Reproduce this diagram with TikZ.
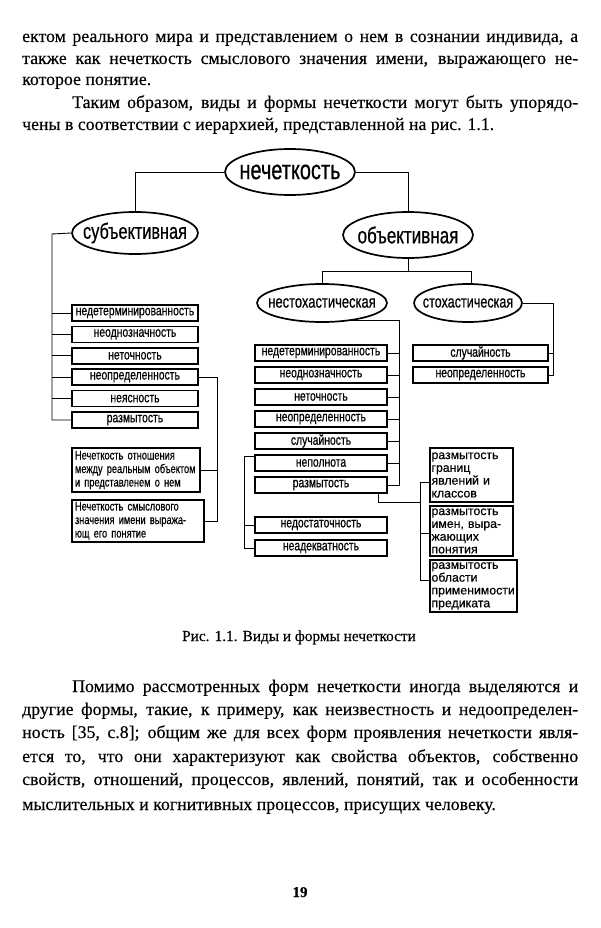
\documentclass[tikz,border=0pt]{standalone}
\usepackage{fontspec}
\setmainfont[FakeBold=0.3]{Liberation Serif}
\newfontfamily\dgfont[FakeStretch=0.74,FakeBold=0.5]{Liberation Sans}
\newfontfamily\rfont[FakeBold=0.5]{Liberation Sans}
\usetikzlibrary{shapes.geometric,calc}
\tikzset{
  body/.style={anchor=base west, inner sep=0pt, font=\fontsize{17.8}{22}\selectfont},
  box/.style={draw, line width=1.7pt, minimum height=16pt, inner sep=0pt, font=\dgfont\fontsize{14}{14}\selectfont},
  tbox/.style={draw, line width=1.7pt, inner xsep=3pt, inner ysep=0pt, align=left, font=\dgfont\fontsize{12.5}{13.5}\selectfont},
  rbox/.style={draw, line width=1.7pt, inner xsep=1.5pt, inner ysep=0pt, align=left, font=\rfont\fontsize{12.3}{12.8}\selectfont},
  ell/.style={draw, ellipse, line width=1.7pt, inner sep=0pt},
  conn/.style={line width=0.9pt}
}
\begin{document}
\begin{tikzpicture}[x=1pt,y=-1pt]
\useasboundingbox (0,0) rectangle (600,928);
\fill[white] (0,0) rectangle (600,928);
% top text
\node[body] (t1) at (22,42) {\makebox[556pt][s]{ектом реального мира и представлением о нем в сознании индивида, а}};
\node[body] (t2) at (22,64) {\makebox[556pt][s]{также как нечеткость смыслового значения имени, выражающего не-}};
\node[body] (t3) at (22,85) {которое понятие.};
\node[body] (t4) at (72,108) {\makebox[506pt][s]{Таким образом, виды и формы нечеткости могут быть упорядо-}};
\node[body] (t5) at (22,130) {чены в соответствии с иерархией, представленной на рис. 1.1.};
% ellipses
\node[ell, minimum width=130pt, minimum height=46pt, label={[font=\dgfont\fontsize{27}{27}\selectfont]center:нечеткость}] (root) at (290,172) {};
\node[ell, minimum width=126pt, minimum height=42pt, label={[font=\dgfont\fontsize{22}{22}\selectfont]center:субъективная}] (subj) at (135,233) {};
\node[ell, minimum width=130pt, minimum height=46pt, label={[font=\dgfont\fontsize{23}{23}\selectfont]center:объективная}] (obj) at (408,235) {};
\node[ell, minimum width=130pt, minimum height=38pt, label={[font=\dgfont\fontsize{17.5}{17.5}\selectfont]center:нестохастическая}] (nest) at (322,303) {};
\node[ell, minimum width=108pt, minimum height=38pt, label={[font=\dgfont\fontsize{17}{17}\selectfont]center:стохастическая}] (stoch) at (468,303) {};
% left list
\node[box, minimum width=126pt] (l1) at (135,313) {недетерминированность};
\node[box, minimum width=126pt] (l2) at (135,334.4) {неоднозначность};
\node[box, minimum width=126pt] (l3) at (135,355.8) {неточность};
\node[box, minimum width=126pt] (l4) at (135,377.2) {неопределенность};
\node[box, minimum width=126pt] (l5) at (135,398.6) {неясность};
\node[box, minimum width=126pt] (l6) at (135,420) {размытость};
\node[tbox, text width=122pt, minimum height=44pt] (f1) at (136,470) {Нечеткость отношения\\между реальным объектом\\и представленем о нем};
\node[tbox, text width=126pt, minimum height=42pt] (f2) at (138,521) {Нечеткость смыслового\\значения имени выража-\\ющ его понятие};
% nestochastic list
\node[box, minimum width=132pt] (n1) at (321,353) {недетерминированность};
\node[box, minimum width=132pt] (n2) at (321,375) {неоднозначность};
\node[box, minimum width=132pt] (n3) at (321,397) {неточность};
\node[box, minimum width=132pt] (n4) at (321,419) {неопределенность};
\node[box, minimum width=132pt] (n5) at (321,441) {случайность};
\node[box, minimum width=132pt] (n6) at (321,463) {неполнота};
\node[box, minimum width=132pt] (n7) at (321,485) {размытость};
\node[box, minimum width=132pt] (n8) at (321,525) {недостаточность};
\node[box, minimum width=132pt] (n9) at (321,548) {неадекватность};
% stochastic list
\node[box, minimum width=135pt] (s1) at (480.5,353) {случайность};
\node[box, minimum width=135pt] (s2) at (480.5,375) {неопределенность};
% right boxes
\node[rbox, text width=80pt, minimum height=54pt] (r1) at (471.5,475) {размытость\\границ\\явлений и\\классов};
\node[rbox, text width=80pt, minimum height=50pt] (r2) at (471.5,531) {размытость\\имен, выра-\\жающих\\понятия};
\node[rbox, text width=84pt, minimum height=52pt] (r3) at (473.5,586) {размытость\\области\\применимости\\предиката};
% connectors
\draw[conn] (root.west) -| (subj.north);
\draw[conn] (root.east) -| (obj.north);
\coordinate (ob) at (408,271);
\draw[conn] (obj.south) -- (ob);
\draw[conn] (ob) -| (nest.north);
\draw[conn] (ob) -| (stoch.80);
\coordinate (sv) at (52,234);
\draw[conn] (subj.west) -- (sv) |- (l6.west);
\foreach \i in {1,...,5} \draw[conn] (l\i.west) -- (l\i.west -| sv);
\coordinate (fv) at (217,0);
\draw[conn] (l4.east) -| (f2.east -| fv) -- (f2.east);
\draw[conn] (f1.east) -- (f1.east -| fv);
\coordinate (nv) at (399,0);
\draw[conn] (nest.-30) -| (n7.east -| nv) -- (n7.east);
\foreach \i in {1,...,6} \draw[conn] (n\i.east) -- (n\i.east -| nv);
\coordinate (tv) at (553,0);
\draw[conn] (stoch.east) -| (s2.east -| tv) -- (s2.east);
\draw[conn] (s1.east) -- (s1.east -| tv);
\coordinate (gv) at (244,0);
\coordinate (n6t) at ($(n6.north west)+(0,2.5)$);
\draw[conn] (n6t) -| (n9.west -| gv) -- (n9.west);
\draw[conn] (n8.west) -- (n8.west -| gv);
\coordinate (nb) at ($(n7.south east)+(-9,0)$);
\coordinate (rj) at (420,502);
\draw[conn] (nb) |- (rj);
\coordinate (rb1) at (420,482);
\coordinate (rb2) at (420,533);
\coordinate (rb3) at (420,580);
\draw[conn] (rb1) -- (rb3);
\draw[conn] (rb1) -- (rb1 -| r1.west);
\draw[conn] (rb2) -- (rb2 -| r2.west);
\draw[conn] (rb3) -- (rb3 -| r3.west);
% caption
\node[anchor=base, inner sep=0pt, font=\fontsize{15.3}{16}\selectfont] (cap) at (299,641) {Рис. 1.1. Виды и формы нечеткости};
% bottom text
\node[body] (b1) at (72,692) {\makebox[506pt][s]{Помимо рассмотренных форм нечеткости иногда выделяются и}};
\node[body] (b2) at (22,715) {\makebox[556pt][s]{другие формы, такие, к примеру, как неизвестность и недоопределен-}};
\node[body] (b3) at (22,738) {\makebox[556pt][s]{ность [35, с.8]; общим же для всех форм проявления нечеткости явля-}};
\node[body] (b4) at (22,762) {\makebox[556pt][s]{ется то, что они характеризуют как свойства объектов, собственно}};
\node[body] (b5) at (22,785) {\makebox[556pt][s]{свойств, отношений, процессов, явлений, понятий, так и особенности}};
\node[body] (b6) at (22,810) {мыслительных и когнитивных процессов, присущих человеку.};
\node[anchor=base, inner sep=0pt, font=\bfseries\fontsize{15}{16}\selectfont] (pg) at (300,897) {19};
\end{tikzpicture}
\end{document}
